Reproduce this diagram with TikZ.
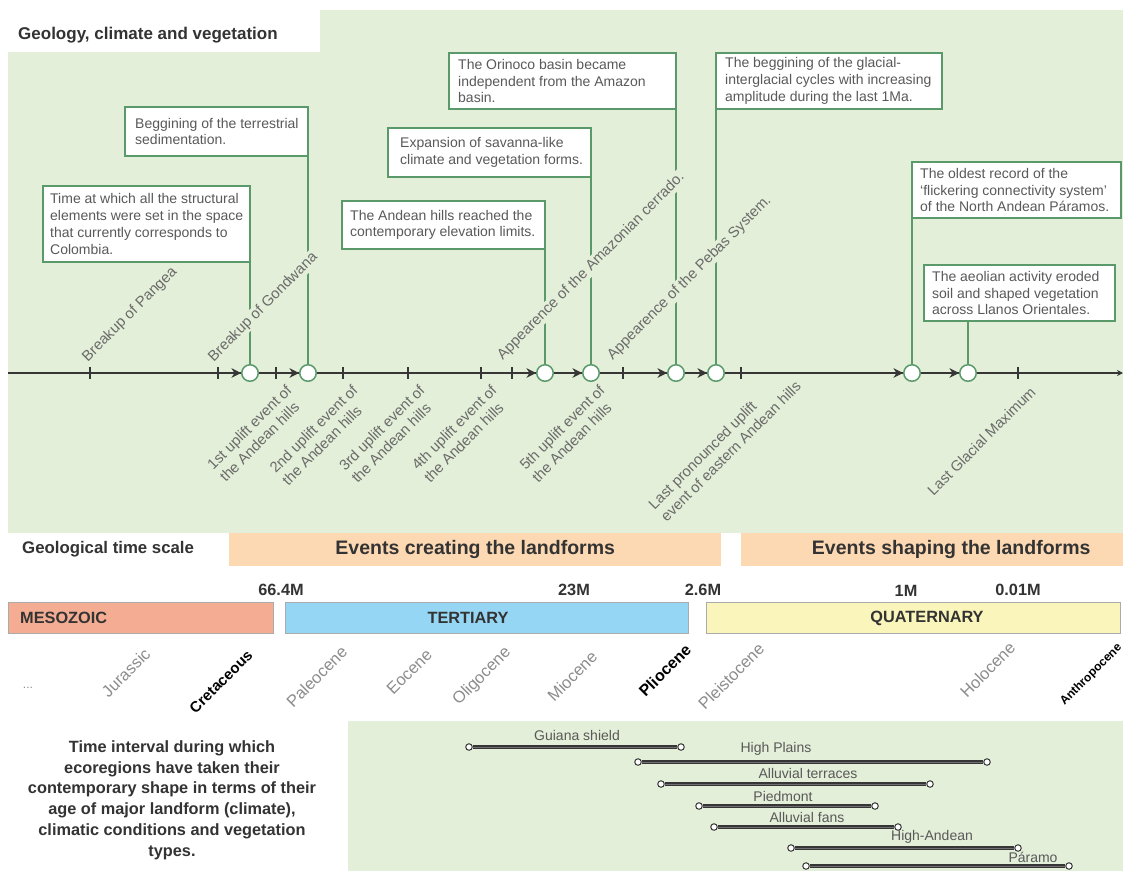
\documentclass[tikz,border=0pt]{standalone}
\usepackage{fontspec}
\setmainfont{Liberation Sans}
\usetikzlibrary{arrows.meta}
\definecolor{bggreen}{HTML}{E3EFD8}
\definecolor{boxgreen}{HTML}{5A9A6A}
\definecolor{linedark}{HTML}{363636}
\definecolor{txtgrey}{HTML}{595959}
\definecolor{lblgrey}{HTML}{6A6A6A}
\definecolor{epgrey}{HTML}{8C8C8C}
\definecolor{peach}{HTML}{FDD9B3}
\definecolor{meso}{HTML}{F4AD93}
\definecolor{tert}{HTML}{94D6F3}
\definecolor{quat}{HTML}{FAF5BA}
\definecolor{barborder}{HTML}{ABABAB}
\definecolor{darktxt}{HTML}{333333}
\definecolor{coregrey}{HTML}{707070}
\begin{document}
\begin{tikzpicture}[x=1pt,y=-1pt,
  infobox/.style={draw=boxgreen,line width=1.4pt,fill=white,anchor=north west,inner sep=0pt,outer sep=0pt},
  boxtxt/.style={anchor=west,align=left,inner sep=0pt,text=txtgrey,font=\fontsize{14}{16.7}\selectfont},
  conn/.style={draw=boxgreen,line width=1.4pt},
  evt/.style={circle,draw=boxgreen,fill=white,line width=1.5pt,minimum size=16.5pt,inner sep=0pt},
  tl/.style={draw=linedark,line width=2.6pt},
  tk/.style={draw=linedark,line width=2pt},
  tip/.style={draw=linedark,line width=2.4pt,-{Stealth[length=9.5pt,width=9.5pt,inset=3pt]}},
  uplbl/.style={rotate=45,anchor=south west,fill=bggreen,inner sep=1pt,text=lblgrey,font=\fontsize{14.8}{17}\selectfont},
  dnlbl/.style={rotate=45,anchor=north east,align=left,inner sep=1pt,text=lblgrey,font=\fontsize{14.8}{17.5}\selectfont},
  eplbl/.style={rotate=45,anchor=north east,inner sep=0.5pt,text=epgrey,font=\fontsize{16.5}{18}\selectfont},
  epbold/.style={rotate=45,anchor=north east,inner sep=0.5pt,text=black,font=\bfseries\fontsize{#1}{18}\selectfont},
  heading/.style={anchor=west,inner sep=0pt,text=darktxt,font=\bfseries\fontsize{#1}{20}\selectfont},
  band/.style={anchor=north west,fill=peach,minimum height=33pt,inner sep=0pt,text=darktxt,font=\bfseries\fontsize{19.5}{22}\selectfont},
  bar/.style={anchor=north west,draw=barborder,line width=1.2pt,minimum height=31pt,inner sep=0pt},
  bartxt/.style={inner sep=0pt,text=darktxt,font=\bfseries\fontsize{16.3}{18}\selectfont},
  num/.style={inner sep=0pt,text=darktxt,font=\bfseries\fontsize{16.3}{18}\selectfont},
  endpt/.style={circle,draw=linedark,fill=white,line width=1pt,minimum size=6.5pt,inner sep=0pt},
  intline/.style={draw=linedark,line width=1.2pt,double=coregrey,double distance=1pt},
  intlbl/.style={inner sep=0pt,text=txtgrey,font=\fontsize{14}{16}\selectfont}
]
\useasboundingbox (0,0) rectangle (1123,871);
\fill[white] (0,0) rectangle (1123,871);
% top green area
\fill[bggreen] (8,10) rectangle (1123,533);
\fill[white] (8,10) rectangle (320,52);
\node[heading=17] (title) at (18,35) {Geology, climate and vegetation};

% boxes
\node[infobox,minimum width=207pt,minimum height=76pt] (b1) at (43,186) {};
\node[boxtxt] (t1) at ([xshift=7pt]b1.west) {Time at which all the structural\\elements were set in the space\\that currently corresponds to\\Colombia.};
\node[infobox,minimum width=183pt,minimum height=49pt] (b2) at (125,107) {};
\node[boxtxt] (t2) at ([xshift=10pt]b2.west) {Beggining of the terrestrial\\sedimentation.};
\node[infobox,minimum width=203pt,minimum height=48pt] (b3) at (342,201) {};
\node[boxtxt] (t3) at ([xshift=8pt]b3.west) {The Andean hills reached the\\contemporary elevation limits.};
\node[infobox,minimum width=203pt,minimum height=49pt] (b4) at (388,128) {};
\node[boxtxt] (t4) at ([xshift=12pt]b4.west) {Expansion of savanna-like\\climate and vegetation forms.};
\node[infobox,minimum width=227pt,minimum height=56pt] (b5) at (449,53) {};
\node[boxtxt] (t5) at ([xshift=9pt]b5.west) {The Orinoco basin became\\independent from the Amazon\\basin.};
\node[infobox,minimum width=226pt,minimum height=56pt] (b6) at (716,53) {};
\node[boxtxt] (t6) at ([xshift=9pt]b6.west) {The beggining of the glacial-\\interglacial cycles with increasing\\amplitude during the last 1Ma.};
\node[infobox,minimum width=209pt,minimum height=56pt] (b7) at (912,162) {};
\node[boxtxt] (t7) at ([xshift=8pt]b7.west) {The oldest record of the\\‘flickering connectivity system’\\of the North Andean Páramos.};
\node[infobox,minimum width=191pt,minimum height=56pt] (b8) at (924,265) {};
\node[boxtxt] (t8) at ([xshift=8pt]b8.west) {The aeolian activity eroded\\soil and shaped vegetation\\across Llanos Orientales.};

% timeline
\coordinate (tA) at (8,373);
\coordinate (tB) at (1123,373);
\draw[tl,-{Stealth[length=6pt,width=6pt,inset=2pt]}] (tA) -- (tB);
\foreach \x in {90,218,276,343,408,481,512,623,741,1018}
  \draw[tk] (\x,367) -- (\x,379);

% event circles
\node[evt] (c1) at (250,373) {};
\node[evt] (c2) at (308,373) {};
\node[evt] (c3) at (545,373) {};
\node[evt] (c4) at (591,373) {};
\node[evt] (c5) at (676,373) {};
\node[evt] (c6) at (716,373) {};
\node[evt] (c7) at (912,373) {};
\node[evt] (c8) at (968,373) {};

% connectors
\draw[conn] (b1.south east) -- (c1);
\draw[conn] (b2.south east) -- (c2);
\draw[conn] (b3.south east) -- (c3);
\draw[conn] (b4.south east) -- (c4);
\draw[conn] (b5.south east) -- (c5);
\draw[conn] (b6.south west) -- (c6);
\draw[conn] (b7.south west) -- (c7);
\draw[conn] (b8.south -| c8) -- (c8);

% arrows into circles
\foreach \c in {c1,c2,c3,c4,c5,c6,c7,c8}
  \draw[tip] ([xshift=-16pt]\c.west) -- (\c.west);

% labels above the timeline
\node[uplbl] (u1) at (90,366) {Breakup of Pangea};
\node[uplbl] (u2) at (216,366) {Breakup of Gondwana};
\node[uplbl] (u3) at (505,364) {Appearence of the Amazonian cerrado.};
\node[uplbl] (u4) at (615,364) {Appearence of the Pebas System.};

% labels below the timeline
\node[dnlbl] (d1) at (285,382) {1st uplift event of\\the Andean hills};
\node[dnlbl] (d2) at (351,382) {2nd uplift event of\\the Andean hills};
\node[dnlbl] (d3) at (418,382) {3rd uplift event of\\the Andean hills};
\node[dnlbl] (d4) at (490,382) {4th uplift event of\\the Andean hills};
\node[dnlbl] (d5) at (598,382) {5th uplift event of\\the Andean hills};
\node[dnlbl] (d6) at (782,366) {Last pronounced uplift\\event of eastern Andean hills};
\node[dnlbl] (d7) at (1029,384) {Last Glacial Maximum};

% geological time scale
\node[heading=16.8] (gts) at (22,549) {Geological time scale};
\node[band,minimum width=492pt] (band1) at (229,533) {Events creating the landforms};
\node[band,minimum width=420pt] (band2) at (741,533) {Events shaping the landforms};

\node[num] (n1) at (281,590) {66.4M};
\node[num] (n2) at (574,590) {23M};
\node[num] (n3) at (703,590) {2.6M};
\node[num] (n4) at (906,591) {1M};
\node[num] (n5) at (1018,590) {0.01M};

\node[bar,fill=meso,minimum width=265pt] (bmeso) at (8,602) {};
\node[bar,fill=tert,minimum width=403pt] (btert) at (285,602) {};
\node[bar,fill=quat,minimum width=414pt] (bquat) at (706,602) {};
\node[bartxt,anchor=west] (tmeso) at ([xshift=12pt]bmeso.west) {MESOZOIC};
\node[bartxt] (ttert) at (468,618) {TERTIARY};
\node[bartxt] (tquat) at (927,618) {QUATERNARY};

% epochs
\node[inner sep=0pt,text=epgrey,font=\fontsize{12}{14}\selectfont] (dots) at (28,688) {...};
\node[eplbl] (e1) at (143,646) {Jurassic};
\node[epbold=15] (e2) at (246,648) {Cretaceous};
\node[eplbl] (e3) at (340,644) {Paleocene};
\node[eplbl] (e4) at (425,647) {Eocene};
\node[eplbl] (e5) at (503,644) {Oligocene};
\node[eplbl] (e6) at (590,649) {Miocene};
\node[epbold=16] (e7) at (684,642) {Pliocene};
\node[eplbl] (e8) at (757,641) {Pleistocene};
\node[eplbl] (e9) at (1008,640) {Holocene};
\node[epbold=12] (e10) at (1116,641) {Anthropocene};

% bottom section
\fill[bggreen] (348,721) rectangle (1123,871);
\node[align=center,inner sep=0pt,text=darktxt,font=\bfseries\fontsize{16.3}{20.8}\selectfont] (tint) at (172,800)
  {Time interval during which\\ecoregions have taken their\\contemporary shape in terms of their\\age of major landform (climate),\\climatic conditions and vegetation\\types.};

\node[endpt] (gsA) at (469,747) {};
\node[endpt] (gsB) at (681,747) {};
\draw[intline] (gsA) -- (gsB);
\node[intlbl] (gsL) at (577,735) {Guiana shield};

\node[endpt] (hpA) at (638,762) {};
\node[endpt] (hpB) at (987,762) {};
\draw[intline] (hpA) -- (hpB);
\node[intlbl] (hpL) at (776,749) {High Plains};

\node[endpt] (atA) at (661,784) {};
\node[endpt] (atB) at (930,784) {};
\draw[intline] (atA) -- (atB);
\node[intlbl] (atL) at (808,773) {Alluvial terraces};

\node[endpt] (pdA) at (699,806) {};
\node[endpt] (pdB) at (875,806) {};
\draw[intline] (pdA) -- (pdB);
\node[intlbl] (pdL) at (783,796) {Piedmont};

\node[endpt] (afA) at (714,827) {};
\node[endpt] (afB) at (898,827) {};
\draw[intline] (afA) -- (afB);
\node[intlbl] (afL) at (807,817) {Alluvial fans};

\node[endpt] (haA) at (791,848) {};
\node[endpt] (haB) at (1018,848) {};
\draw[intline] (haA) -- (haB);
\node[intlbl] (haL) at (932,837) {High-Andean};

\node[endpt] (prA) at (806,866) {};
\node[endpt] (prB) at (1069,866) {};
\draw[intline] (prA) -- (prB);
\node[intlbl] (prL) at (1033,857) {Páramo};
\end{tikzpicture}
\end{document}
